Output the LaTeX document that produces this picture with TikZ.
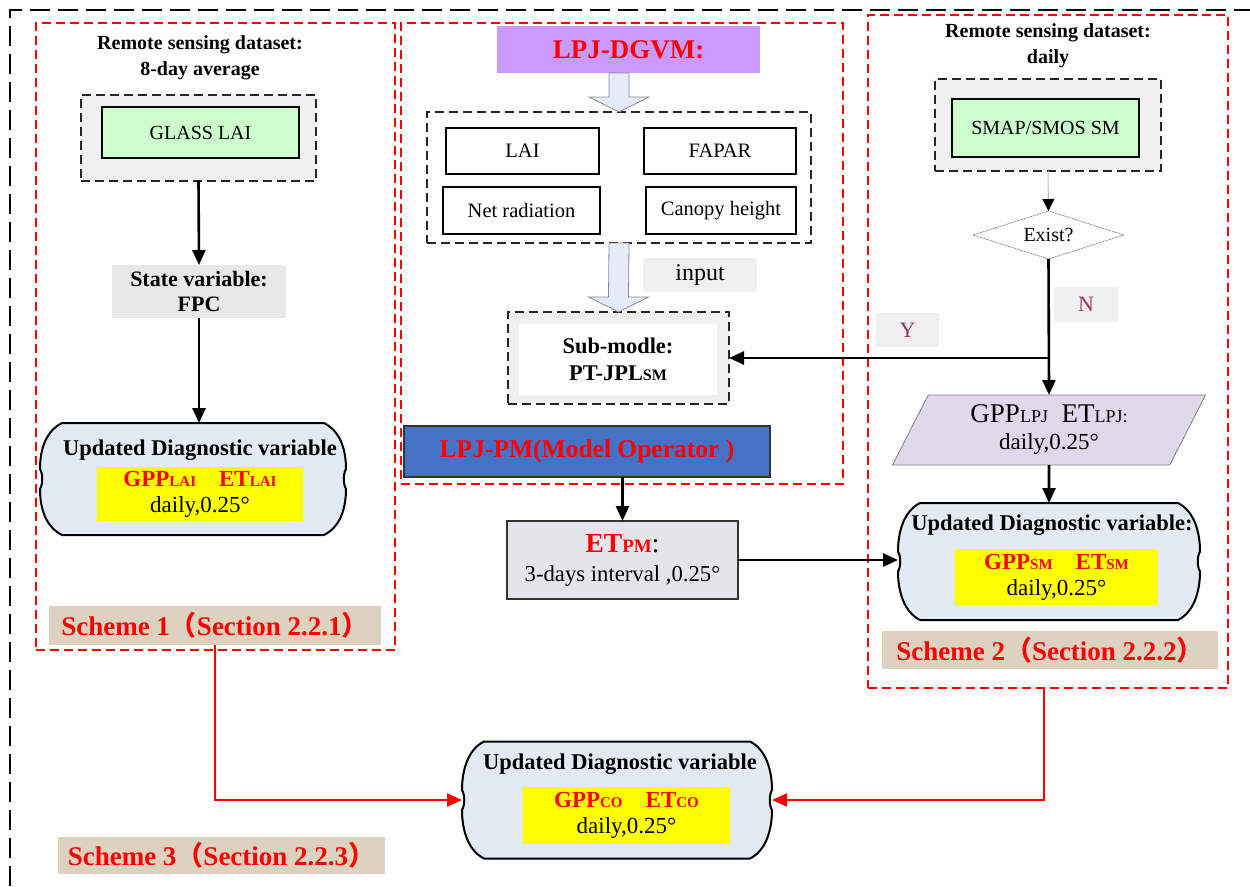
\documentclass[tikz,border=0pt]{standalone}
\usepackage{fontspec}
\setmainfont{Liberation Serif}
\newfontfamily\cjk{Noto Sans CJK SC}
\usepackage{xcolor}
\usepackage{tikz}
\usetikzlibrary{positioning,arrows.meta,calc,shapes.geometric}
\definecolor{SchRed}{HTML}{FF0000}
\definecolor{SchGreen}{HTML}{CCFFCC}
\definecolor{SchGrey}{HTML}{F0F0F0}
\definecolor{SchState}{HTML}{E8E8E8}
\definecolor{SchCloud}{HTML}{E4EAF4}
\definecolor{SchYellow}{HTML}{FFFF00}
\definecolor{SchTan}{HTML}{DDD2BF}
\definecolor{SchPurple}{HTML}{CC99FF}
\definecolor{SchBlue}{HTML}{4472C4}
\definecolor{SchSteel}{HTML}{E2E5EA}
\definecolor{SchLilac}{HTML}{E0D9EC}
\definecolor{SchWine}{HTML}{993366}
\definecolor{SchArrow}{HTML}{E6ECF7}
\newcommand{\capsub}[2][15]{{\fontsize{#1}{#1}\selectfont #2}}
\newcommand{\schemetxt}[2]{Scheme #1{\cjk （}Section #2{\cjk ）}}
% wavy outline round a geometry node
\newcommand{\diagoutline}[1]{%
  \draw[diagline] ($(#1.north west)+(22,0)$) -- ($(#1.north east)+(-22,0)$)
    .. controls ($(#1.north east)+(-6,8)$) and ($(#1.east)+(0,-30)$) .. ($(#1.east)+(0,-10)$)
    .. controls ($(#1.east)+(-3,-5)$) and ($(#1.east)+(-3,5)$) .. ($(#1.east)+(0,10)$)
    .. controls ($(#1.east)+(0,30)$) and ($(#1.south east)+(-6,-8)$) .. ($(#1.south east)+(-22,0)$)
    -- ($(#1.south west)+(22,0)$)
    .. controls ($(#1.south west)+(6,-8)$) and ($(#1.west)+(0,30)$) .. ($(#1.west)+(0,10)$)
    .. controls ($(#1.west)+(3,5)$) and ($(#1.west)+(3,-5)$) .. ($(#1.west)+(0,-10)$)
    .. controls ($(#1.west)+(0,-30)$) and ($(#1.north west)+(6,8)$) .. ($(#1.north west)+(22,0)$) -- cycle;}
% hollow block arrow between two points on one vertical
\newcommand{\fatarrow}[2]{%
  \draw[fatarr] ($(#1)+(-10,0)$) -- ($(#2)+(-10,-15)$) -- ($(#2)+(-30,-15)$) -- (#2)
    -- ($(#2)+(30,-15)$) -- ($(#2)+(10,-15)$) -- ($(#1)+(10,0)$) -- cycle;}
\tikzset{
  base/.style={inner sep=0pt, outer sep=0pt, align=center, font=\fontsize{20}{25}\selectfont},
  redframe/.style={base, draw=SchRed, line width=1.4pt, dash pattern=on 9pt off 5pt},
  dashbox/.style={base, draw=black!85, line width=1.5pt, dash pattern=on 9pt off 5pt},
  greybox/.style={dashbox, fill=SchGrey},
  greenbox/.style={base, draw=black, line width=1.5pt, fill=SchGreen},
  varbox/.style={base, draw=black, line width=1.3pt, font=\fontsize{20.5}{24}\selectfont},
  headtxt/.style={base, font=\bfseries\fontsize{20}{26}\selectfont},
  geombox/.style={base},
  diagline/.style={line width=2pt, draw=black, fill=SchCloud},
  diagtitle/.style={base, font=\bfseries\fontsize{22.5}{26}\selectfont},
  yellowbox/.style={base, fill=SchYellow, font=\fontsize{23}{26}\selectfont},
  schemebox/.style={base, fill=SchTan, text=SchRed, font=\bfseries\fontsize{27}{30}\selectfont},
  tagbox/.style={base, fill=SchGrey, text=SchWine, font=\fontsize{22}{26}\selectfont},
  blackarr/.style={-{Triangle[length=15pt,width=13pt]}, line width=2.6pt},
  redarr/.style={-{Triangle[length=15pt,width=13pt]}, line width=2.2pt, draw=SchRed},
  fatarr/.style={draw=black!45, line width=0.8pt, fill=SchArrow}
}
\begin{document}
\begin{tikzpicture}[x=1pt, y=-1pt]
\useasboundingbox (0,0) rectangle (1250,886);
\draw[line width=1.4pt, dash pattern=on 20pt off 8pt] (10,886) -- (10,10) -- (1250,10);
% frames
\node[redframe, minimum width=359, minimum height=627] (frame1) at (215.5,336.5) {};
\node[redframe, minimum width=442, minimum height=461] (framemid) at (622,253.5) {};
\node[redframe, minimum width=360, minimum height=673] (frame2) at (1048,351.5) {};

% scheme 1
\node[headtxt] (lefthead) at (200,58) {Remote sensing dataset:\\8-day average};
\node[greybox, minimum width=235, minimum height=86] (glassout) at (198.5,138) {};
\node[greenbox, minimum width=197, minimum height=51] (glass) at (200.5,132.5) {GLASS LAI};
\node[base, fill=SchState, minimum width=174, minimum height=53, font=\bfseries\fontsize{22}{25}\selectfont] (state) at (199,291.5) {State variable:\\FPC};
\node[geombox, minimum width=306, minimum height=112] (laidiag) at (193,479) {};
\diagoutline{laidiag}
\node[diagtitle] (laititle) at (200,450) {Updated Diagnostic variable};
\node[yellowbox, minimum width=206, minimum height=54] (laival) at (200,494) {{\color{SchRed}\bfseries GPP\capsub{LAI}\quad ET\capsub{LAI}}\\daily,0.25°};
\node[schemebox, minimum width=332, minimum height=39] (s1) at (215,625.5) {\schemetxt{1}{2.2.1}};

% model
\node[base, fill=SchPurple, minimum width=263, minimum height=47, text=SchRed, font=\bfseries\fontsize{27}{30}\selectfont] (dgvm) at (628.5,49.5) {LPJ-DGVM:};
\node[dashbox, minimum width=384, minimum height=131] (vars) at (619,177.5) {};
\node[varbox, minimum width=153, minimum height=46] (lai) at (522.5,151) {LAI};
\node[varbox, minimum width=152, minimum height=46] (fapar) at (720,151) {FAPAR};
\node[varbox, minimum width=157, minimum height=47] (netrad) at (521.5,210.5) {Net radiation};
\node[varbox, minimum width=150, minimum height=47] (canopy) at (721,210.5) {Canopy height};
\node[base, fill=SchGrey, minimum width=114, minimum height=34, font=\fontsize{24}{28}\selectfont] (input) at (700,275) {input};
\node[greybox, minimum width=221, minimum height=92] (subout) at (618.5,358) {};
\node[base, fill=white, minimum width=198, minimum height=71, font=\bfseries\fontsize{22.4}{27}\selectfont] (sub) at (618,359.5) {Sub-modle:\\PT-JPL\capsub[16]{SM}};
\node[base, draw=black!80, line width=1.2pt, fill=SchBlue, minimum width=366, minimum height=51, text=SchRed, font=\bfseries\fontsize{25.5}{28}\selectfont] (pm) at (587,451.5) {LPJ-PM(Model Operator )};
\node[base, draw=black!80, line width=1.2pt, fill=SchSteel, minimum width=231, minimum height=78, font=\fontsize{22.7}{29}\selectfont] (etpm) at (622.5,560) {{\fontsize{27.5}{29}\selectfont{\color{SchRed}\bfseries ET\capsub[19]{PM}}:}\\3-days interval ,0.25°};
\fatarrow{vars.north |- dgvm.south}{vars.north}
\fatarrow{vars.south}{subout.north}

% scheme 2
\node[headtxt] (righthead) at (1048,46) {Remote sensing dataset:\\daily};
\node[greybox, minimum width=226, minimum height=92] (smapout) at (1048,125) {};
\node[greenbox, minimum width=187, minimum height=58] (smap) at (1045.5,128) {SMAP/SMOS SM};
\node[base, shape=diamond, draw=black!60, line width=0.6pt, dash pattern=on 1.5pt off 0.8pt, minimum width=151, minimum height=48, aspect=3.15] (exist) at (1048.5,235) {Exist?};
\node[tagbox, minimum width=64, minimum height=35] (ntag) at (1086,304.5) {N};
\node[tagbox, minimum width=63, minimum height=34] (ytag) at (907.5,330) {Y};
\node[base, shape=trapezium, trapezium left angle=65, trapezium right angle=115, trapezium stretches=true, draw=black!50, line width=0.8pt, fill=SchLilac, minimum width=314, minimum height=70, font=\fontsize{23}{27}\selectfont] (gpplpj) at (1049,430) {{\fontsize{27}{29}\selectfont GPP\capsub[18]{LPJ}\ \ ET\capsub[18]{LPJ:}}\\daily,0.25°};
\node[geombox, minimum width=302, minimum height=117] (smdiag) at (1049,561.5) {};
\diagoutline{smdiag}
\node[diagtitle] (smtitle) at (1052,525) {Updated Diagnostic variable:};
\node[yellowbox, minimum width=203, minimum height=56] (smval) at (1056.5,577) {{\color{SchRed}\bfseries GPP\capsub{SM}\quad ET\capsub{SM}}\\daily,0.25°};
\node[schemebox, minimum width=336, minimum height=38] (s2) at (1050,650) {\schemetxt{2}{2.2.2}};

% scheme 3
\node[geombox, minimum width=310, minimum height=117] (codiag) at (617,800) {};
\diagoutline{codiag}
\node[diagtitle] (cotitle) at (620,764) {Updated Diagnostic variable};
\node[yellowbox, minimum width=207, minimum height=57] (coval) at (626.5,815.5) {{\color{SchRed}\bfseries GPP\capsub{CO}\quad ET\capsub{CO}}\\daily,0.25°};
\node[schemebox, minimum width=327, minimum height=37] (s3) at (221.5,855.5) {\schemetxt{3}{2.2.3}};

% connectors
\draw[blackarr] (glassout.south) -- (state.north);
\draw[blackarr] (state.south) -- (state.south |- laidiag.north);
\draw[blackarr] (etpm.north |- pm.south) -- (etpm.north);
\draw[blackarr] (etpm.east) -- (smdiag.west |- etpm.east);
\draw[line width=1pt, draw=black!25, -{Triangle[length=12pt,width=12pt,color=black]}] (smapout.south) -- (exist.north);
\coordinate (split) at (exist.south |- subout.east);
\draw[blackarr] (exist.south) -- (gpplpj.north);
\draw[blackarr] (split) -- (subout.east);
\draw[blackarr] (gpplpj.south) -- (smdiag.north);
\draw[redarr] (s1.south) |- (codiag.west);
\draw[redarr] ([xshift=-4pt]frame2.south) |- (codiag.east);
\end{tikzpicture}
\end{document}
